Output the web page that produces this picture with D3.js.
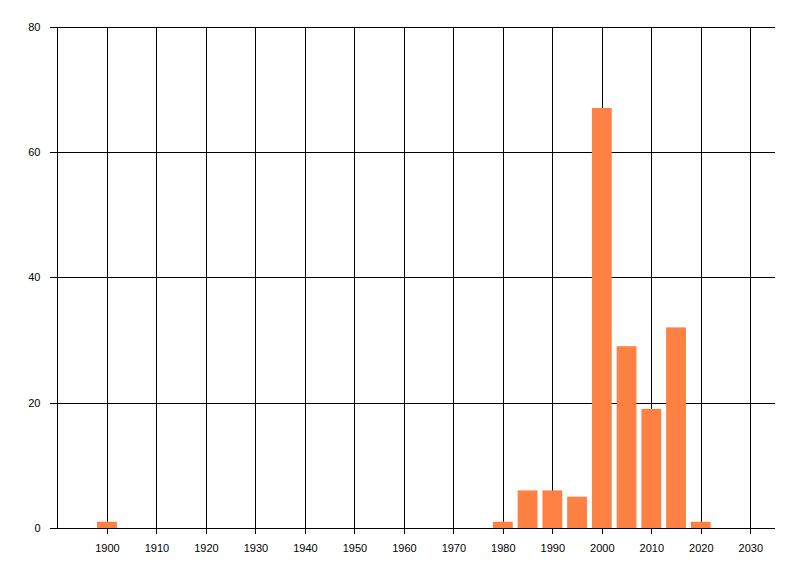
<!DOCTYPE html>
<html lang="en">
<head>
    <meta charset="UTF-8">
    <title>Count by year</title>
    <script src="https://d3js.org/d3.v7.min.js"></script>
    <style>
        body { margin: 0; background: white; }
        .tick text { font-family: "Liberation Sans", Arial, sans-serif; font-size: 11px; fill: #000; }
        line { shape-rendering: crispEdges; }
    </style>
</head>
<body>
<script>
    // Data
    const years = [1900, 1980, 1985, 1990, 1995, 2000, 2005, 2010, 2015, 2020];
    const counts = [1, 1, 6, 6, 5, 67, 29, 19, 32, 1];
    const xTicks = d3.range(1900, 2031, 10);
    const yTicks = [0, 20, 40, 60, 80];

    const W = 800, H = 576;
    const plotLeft = 57.5, plotRight = 775, plotTop = 26.5, plotBottom = 528;

    const svg = d3.select("body").append("svg")
        .attr("width", W)
        .attr("height", H);

    const x = d3.scaleLinear().domain([1890, 2035]).range([plotLeft, plotRight]);
    const y = d3.scaleLinear().domain([0, 80]).range([plotBottom, plotTop]);

    // vertical grid + bottom ticks
    svg.append("g")
        .attr("transform", `translate(0,${plotBottom})`)
        .call(d3.axisBottom(x).tickValues(xTicks).tickFormat(d3.format("d"))
            .tickSizeOuter(0).tickPadding(10))
        .call(g => g.select(".domain").remove())
        .call(g => g.selectAll(".tick line").attr("y2", -(plotBottom - plotTop)).attr("y1", 6)
            .attr("stroke", "#000"));

    // horizontal grid + left ticks
    svg.append("g")
        .attr("transform", `translate(${plotLeft},0)`)
        .call(d3.axisLeft(y).tickValues(yTicks)
            .tickSizeOuter(0).tickPadding(11))
        .call(g => g.select(".domain").remove())
        .call(g => g.selectAll(".tick line").attr("x1", -8).attr("x2", plotRight - plotLeft)
            .attr("stroke", "#000"));

    // bars
    const bw = 4;
    svg.append("g").selectAll("rect")
        .data(years.map((yr, i) => ({ yr, v: counts[i] })))
        .join("rect")
        .attr("x", d => x(d.yr - bw / 2))
        .attr("width", d => x(d.yr + bw / 2) - x(d.yr - bw / 2))
        .attr("y", d => y(d.v))
        .attr("height", d => y(0) - y(d.v))
        .attr("fill", "#ff8043");

    // axis lines
    svg.append("line")
        .attr("x1", plotLeft).attr("x2", plotRight)
        .attr("y1", y(0)).attr("y2", y(0))
        .attr("stroke", "#000");
    svg.append("line")
        .attr("x1", plotLeft).attr("x2", plotLeft)
        .attr("y1", plotTop).attr("y2", plotBottom)
        .attr("stroke", "#000");
</script>
</body>
</html>
